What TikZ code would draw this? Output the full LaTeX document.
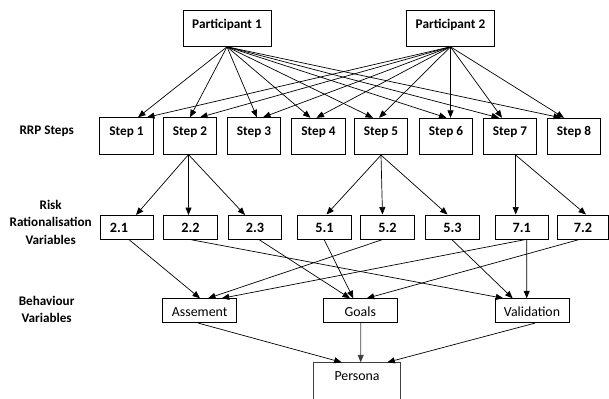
\documentclass[tikz,border=0pt]{standalone}
\usepackage{fontspec}
\setmainfont{Carlito}
\usetikzlibrary{arrows.meta,calc}
\tikzset{
  box/.style={draw=black, line width=0.8bp, inner xsep=0pt, inner ysep=0pt, anchor=north},
  pbox/.style={box, font=\bfseries\fontsize{13.3}{15}\selectfont, minimum width=88bp, text height=18.3bp, text depth=17.7bp},
  stepbox/.style={box, font=\bfseries\fontsize{13.3}{15}\selectfont, minimum width=53.5bp, text height=17.7bp, text depth=18.8bp},
  varbox/.style={box, font=\bfseries\fontsize{14.3}{15}\selectfont, minimum width=53.5bp, text height=17.5bp, text depth=6.5bp},
  behbox/.style={box, font=\fontsize{13.9}{15}\selectfont, minimum width=74bp, text height=17.7bp, text depth=6.3bp},
  sidelabel/.style={font=\bfseries\fontsize{13.2}{17.5}\selectfont, align=center, inner sep=0pt, anchor=north},
  conn/.style={line width=0.7bp, -{Triangle[length=7.5bp,width=6bp]}},
}
\begin{document}
\begin{tikzpicture}[x=1bp,y=-1bp]
\useasboundingbox (0,0) rectangle (609,398);
\clip (0,0) rectangle (609,398);
% participants
\node[pbox] (p1) at (227,10) {Participant 1};
\node[pbox] (p2) at (450.5,10) {Participant 2};
% steps
\node[stepbox] (s1) at (126.5,117.3) {Step 1};
\node[stepbox] (s2) at (190,117.3) {Step 2};
\node[stepbox] (s3) at (254,117.3) {Step 3};
\node[stepbox] (s4) at (318.5,117.8) {Step 4};
\node[stepbox] (s5) at (381,117.8) {Step 5};
\node[stepbox] (s6) at (446,117.8) {Step 6};
\node[stepbox] (s7) at (510,117.8) {Step 7};
\node[stepbox] (s8) at (574,117.8) {Step 8};
% variables
\node[varbox] (r21) at (127,215) {2.1\hspace*{16bp}};
\node[varbox] (r22) at (190.5,215) {2.2};
\node[varbox] (r23) at (255,215) {2.3};
\node[varbox] (r51) at (324.5,214.5) {5.1};
\node[varbox] (r52) at (387.5,214.5) {5.2};
\node[varbox] (r53) at (452.5,214.5) {5.3};
\node[varbox] (r71) at (521.7,214.5) {7.1};
\node[varbox, minimum width=51bp] (r72) at (583,214.5) {7.2};
% behaviour
\node[behbox] (ba) at (199.7,298.3) {Assement};
\node[behbox] (bg) at (360.3,298.3) {Goals};
\node[behbox] (bv) at (532,298.3) {Validation};
% persona
\node[box, draw=black!75, font=\fontsize{13.9}{15}\selectfont, minimum width=87.4bp, text height=17.7bp, text depth=40bp] (pe) at (357,362.3) {Persona};
% side labels
\node[sidelabel] (l1) at (46.7,126) {RRP Steps};
\node[sidelabel] (l2) at (50.7,200) {Risk\\Rationalisation\\Variables};
\node[sidelabel] (l3) at (46.6,296) {Behaviour\\Variables};
% participant 1 -> steps
\draw[conn] (p1.south) -- ($(s1.north)+(11.5,0)$);
\draw[conn] (p1.south) -- ($(s2.north)+(0,0)$);
\draw[conn] (p1.south) -- ($(s3.north)+(3,0)$);
\draw[conn] (p1.south) -- ($(s4.north)+(-8,0)$);
\draw[conn] (p1.south) -- ($(s5.north)+(-8,0)$);
\draw[conn] (p1.south) -- ($(s6.north)+(0.5,0)$);
\draw[conn] (p1.south) -- ($(s7.north)+(-11,0)$);
\draw[conn] (p1.south) -- ($(s8.north)+(-13,0)$);
% participant 2 -> steps
\draw[conn] (p2.south) -- ($(s1.north)+(20.5,0)$);
\draw[conn] (p2.south) -- ($(s2.north)+(10,0)$);
\draw[conn] (p2.south) -- ($(s3.north)+(9,0)$);
\draw[conn] (p2.south) -- ($(s4.north)+(-2,0)$);
\draw[conn] (p2.south) -- ($(s5.north)+(-2,0)$);
\draw[conn] (p2.south) -- ($(s6.north)+(4.5,0)$);
\draw[conn] (p2.south) -- ($(s7.north)+(-8,0)$);
\draw[conn] (p2.south) -- ($(s8.north)+(-10,0)$);
% steps -> variables
\draw[conn] ($(s2.south)+(-1.5,0)$) -- ($(r21.north)+(9,0)$);
\draw[conn] ($(s2.south)+(-1.5,0)$) -- ($(r22.north)+(-2,0)$);
\draw[conn] ($(s2.south)+(-1.5,0)$) -- ($(r23.north)+(-10,0)$);
\draw[conn] (s5.south) -- ($(r51.north)+(2,0)$);
\draw[conn] (s5.south) -- ($(r52.north)+(-5,0)$);
\draw[conn] (s5.south) -- ($(r53.north)+(-5,0)$);
\draw[conn] ($(s7.south)+(5.7,0)$) -- ($(r71.north)+(-6,0)$);
\draw[conn] ($(s7.south)+(5.7,0)$) -- ($(r72.north)+(3,0)$);
% variables -> behaviour
\draw[conn] ($(r21.south)+(2.3,0)$) -- ($(ba.north)+(0.3,0)$);
\draw[conn] ($(r22.south)+(1,0)$) -- ($(bv.north)+(-28.7,0)$);
\draw[conn] ($(r23.south)+(4.3,0)$) -- ($(bg.north)+(-10.3,0)$);
\draw[conn] ($(r51.south)+(-0.5,0)$) -- ($(bg.north)+(-7,0)$);
\draw[conn] ($(r52.south)+(-4.2,0)$) -- ($(ba.north)+(8.3,0)$);
\draw[conn] ($(r53.south)+(-1,0)$) -- ($(bv.north)+(-19.3,0)$);
\draw[conn] ($(r71.south)+(5,0)$) -- ($(ba.north)+(22,0)$);
\draw[conn] ($(r71.south)+(5,0)$) -- ($(bv.north)+(-5.3,0)$);
\draw[conn] ($(r72.south)+(-3,0)$) -- ($(bg.north)+(6.4,0)$);
% behaviour -> persona
\draw[conn] ($(ba.south)+(-1.4,0)$) -- ($(pe.north)+(-15.3,0)$);
\draw[conn, draw=black!75] ($(bg.south)+(0.4,0)$) -- ($(pe.north)+(3.7,0)$);
\draw[conn] ($(bv.south)+(3,0)$) -- ($(pe.north)+(30.3,0)$);
\end{tikzpicture}
\end{document}
